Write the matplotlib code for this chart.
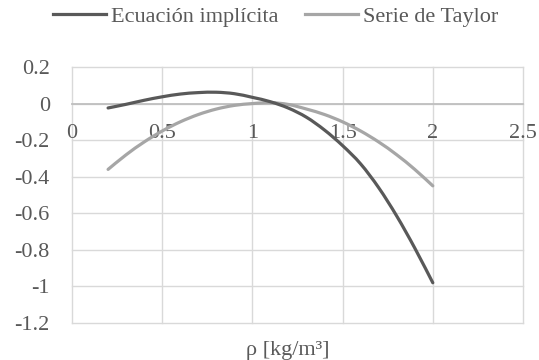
import matplotlib
matplotlib.use("Agg")
import matplotlib.pyplot as plt
from matplotlib.ticker import FixedLocator, FuncFormatter
from matplotlib.path import Path
from matplotlib.patches import PathPatch
from matplotlib.lines import Line2D

plt.rcParams['font.family'] = ['Liberation Serif', 'DejaVu Serif']
plt.rcParams['axes.unicode_minus'] = False

rho = [0.2, 0.3, 0.4, 0.5, 0.6, 0.7, 0.8, 0.9, 1.0, 1.1,
       1.2, 1.3, 1.4, 1.5, 1.6, 1.7, 1.8, 1.9, 2.0]
implicita = [-0.024, -0.004, 0.018, 0.037, 0.052, 0.06, 0.062, 0.054, 0.034, 0.01,
             -0.025, -0.075, -0.145, -0.23, -0.33, -0.46, -0.615, -0.79, -0.98]
taylor = [-0.36, -0.28, -0.21, -0.15, -0.10, -0.06, -0.03, -0.01, 0.0, 0.005,
          -0.005, -0.03, -0.06, -0.10, -0.15, -0.21, -0.28, -0.36, -0.45]
xticks = [0, 0.5, 1, 1.5, 2, 2.5]
yticks = [0.2, 0, -0.2, -0.4, -0.6, -0.8, -1, -1.2]


def smooth_path(xs, ys):
    pts = list(zip(xs, ys))
    n = len(pts)
    verts = [pts[0]]
    codes = [Path.MOVETO]
    for i in range(n - 1):
        p0 = pts[max(i - 1, 0)]
        p1 = pts[i]
        p2 = pts[i + 1]
        p3 = pts[min(i + 2, n - 1)]
        c1 = (p1[0] + (p2[0] - p0[0]) / 6, p1[1] + (p2[1] - p0[1]) / 6)
        c2 = (p2[0] - (p3[0] - p1[0]) / 6, p2[1] - (p3[1] - p1[1]) / 6)
        verts += [c1, c2, p2]
        codes += [Path.CURVE4] * 3
    return Path(verts, codes)


txt = '#595959'
c_dark = '#595959'
c_light = '#A6A6A6'
lw = 2.3

fig = plt.figure(figsize=(5.39, 3.6), dpi=100)
ax = fig.add_axes([72/539, 1-323/360, (523-72)/539, (323-67)/360])

ax.add_patch(PathPatch(smooth_path(rho, taylor), fill=False, edgecolor=c_light,
                       lw=lw, capstyle='round', zorder=3))
ax.add_patch(PathPatch(smooth_path(rho, implicita), fill=False, edgecolor=c_dark,
                       lw=lw, capstyle='round', zorder=4))

ax.set_xlim(0, 2.5)
ax.set_ylim(-1.2, 0.2)
ax.xaxis.set_major_locator(FixedLocator(xticks))
ax.yaxis.set_major_locator(FixedLocator(yticks))
fmt = FuncFormatter(lambda v, p: ('%g' % round(v, 2)))
ax.xaxis.set_major_formatter(fmt)
ax.yaxis.set_major_formatter(fmt)
ax.grid(True, color='#D9D9D9', lw=1.0, zorder=0)
ax.set_axisbelow(True)
for s in ['left', 'right', 'top']:
    ax.spines[s].set_visible(False)
ax.spines['bottom'].set_position(('data', 0))
ax.spines['bottom'].set_color('#BFBFBF')
ax.spines['bottom'].set_linewidth(1.3)
ax.spines['bottom'].set_zorder(2)
ax.tick_params(axis='both', length=0, labelsize=16, labelcolor=txt)
ax.tick_params(axis='y', pad=16)
ax.tick_params(axis='x', pad=15)
for gl in ax.get_xgridlines() + ax.get_ygridlines():
    gl.set_clip_on(False)

fig.text(288/539, 1-355/360, 'ρ [kg/m³]', ha='center', va='baseline', fontsize=16, color=txt)

h1 = Line2D([], [], color=c_dark, lw=lw)
h2 = Line2D([], [], color=c_light, lw=lw)
fig.legend([h1, h2], ['Ecuación implícita', 'Serie de Taylor'], loc='center',
           bbox_to_anchor=(275.5/539, 1-17/360), ncol=2, frameon=False,
           fontsize=16, handlelength=2.4, handletextpad=0.2, columnspacing=1.2,
           labelcolor=txt)
fig.savefig('out.png', dpi=100)
